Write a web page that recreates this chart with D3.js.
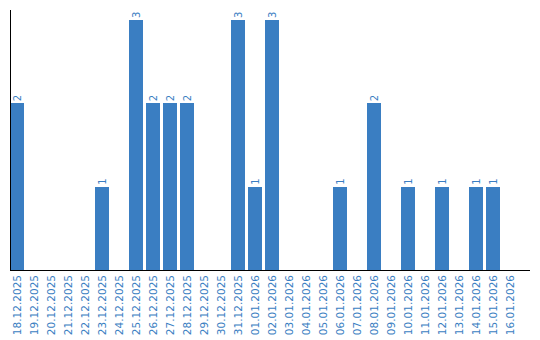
<!DOCTYPE html>
<html>
<head>
<meta charset="utf-8">
<script src="https://cdn.jsdelivr.net/npm/d3@7"></script>
<style>
  body { margin: 0; background: #fff; }
  svg { display: block; }
</style>
</head>
<body>
<div id="chart"></div>
<script>
// dates shown on the x axis
const dates = [
  "18.12.2025", "19.12.2025", "20.12.2025", "21.12.2025", "22.12.2025",
  "23.12.2025", "24.12.2025", "25.12.2025", "26.12.2025", "27.12.2025",
  "28.12.2025", "29.12.2025", "30.12.2025", "31.12.2025", "01.01.2026",
  "02.01.2026", "03.01.2026", "04.01.2026", "05.01.2026", "06.01.2026",
  "07.01.2026", "08.01.2026", "09.01.2026", "10.01.2026", "11.01.2026",
  "12.01.2026", "13.01.2026", "14.01.2026", "15.01.2026", "16.01.2026"
];
const counts = [
  2, 0, 0, 0, 0,
  1, 0, 3, 2, 2,
  2, 0, 0, 3, 1,
  3, 0, 0, 0, 1,
  0, 2, 0, 1, 0,
  1, 0, 1, 1, 0
];

const width = 540, height = 340;
const color = "#3a7ec2";

const data = dates.map((d, i) => ({ date: d, value: counts[i] }));

const svg = d3.select("#chart").append("svg")
    .attr("width", width)
    .attr("height", height);

const x = d3.scaleBand()
    .domain(dates)
    .range([10, 517])
    .paddingInner(3 / 17)
    .paddingOuter(0);

const y = d3.scaleLinear()
    .domain([0, 3])
    .range([270, 20]);

// bars
svg.selectAll(".bar")
    .data(data.filter(d => d.value > 0))
    .enter().append("rect")
        .attr("class", "bar")
        .attr("x", d => x(d.date))
        .attr("y", d => y(d.value))
        .attr("width", x.bandwidth())
        .attr("height", d => y(0) - y(d.value))
        .attr("fill", color)
        .attr("shape-rendering", "crispEdges");

// value labels, rotated
svg.selectAll(".val")
    .data(data.filter(d => d.value > 0))
    .enter().append("text")
        .attr("class", "val")
        .attr("transform", d => `translate(${x(d.date) + x.bandwidth() / 2 + 3.5}, ${y(d.value) - 2}) rotate(-90)`)
        .attr("font-family", "DejaVu Sans, sans-serif")
        .attr("font-size", 10)
        .attr("fill", color)
        .text(d => d.value);

// x axis
const xAxis = svg.append("g")
    .attr("transform", `translate(0, ${y(0)})`)
    .call(d3.axisBottom(x).tickSize(0).tickPadding(0));
xAxis.select(".domain").remove();
xAxis.selectAll("text")
    .attr("font-family", "DejaVu Sans, sans-serif")
    .attr("font-size", 10.5)
    .attr("fill", color)
    .attr("text-anchor", "end")
    .attr("dy", "0.35em")
    .attr("transform", "translate(0,5) rotate(-90)")
    .attr("x", 0)
    .attr("y", 0);

svg.append("line")
    .attr("x1", 10).attr("x2", 530)
    .attr("y1", y(0) + 0.5).attr("y2", y(0) + 0.5)
    .attr("stroke", "#000");

// y axis line only
svg.append("line")
    .attr("x1", 10.5).attr("x2", 10.5)
    .attr("y1", 10).attr("y2", y(0))
    .attr("stroke", "#000");
</script>
</body>
</html>
